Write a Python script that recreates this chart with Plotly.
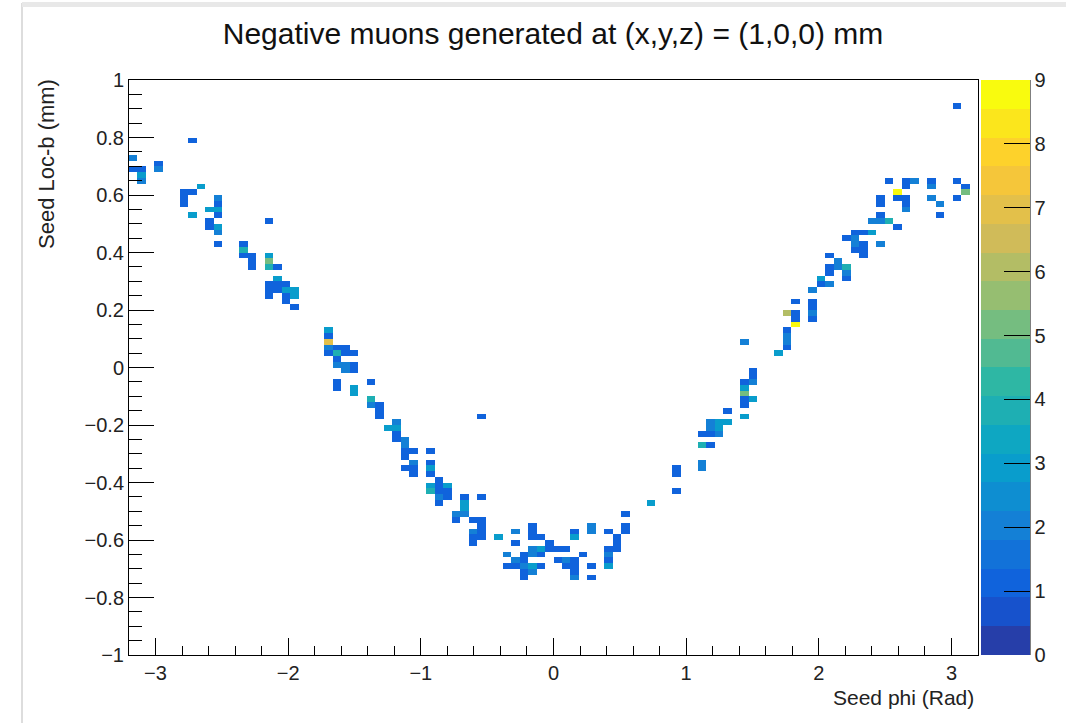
import numpy as np
import plotly.graph_objects as go

# ---- data: occupied bins (bin centres) and their counts ----
phi = [
    -3.168, -3.168, -3.104, -3.104, -3.104, -2.976, -2.976, -2.72, -2.784, -2.72,
    -2.784, -2.784, -2.72, -2.656, -2.528, -2.528, -2.528, -2.592, -2.528, -2.592,
    -2.592, -2.528, -2.528, -2.528, -2.336, -2.336, -2.336, -2.272, -2.272, -2.272,
    -2.144, -2.144, -2.144, -2.144, -2.08, -2.08, -2.144, -2.08, -2.016, -2.144,
    -2.08, -2.016, -1.952, -1.952, -2.144, -2.016, -2.016, -1.952,
    -1.696, -1.696, -1.696, -1.696, -1.632, -1.568, -1.696, -1.632, -1.568, -1.504,
    -1.632, -1.632, -1.568, -1.568, -1.504, -1.504, -1.632, -1.632, -1.504, -1.504,
    -1.376, -1.376, -1.376, -1.312, -1.312, -1.312, -0.544, -1.184, -1.248, -1.184,
    -1.184, -1.184, -1.12, -1.12, -1.12, -1.056, -1.12, -0.928, -1.056, -1.12,
    -1.056, -1.056, -0.928, -0.928, -0.928, -0.864, -0.928, -0.864, -0.8, -0.928,
    -0.864, -0.8, -0.864, -0.8, -0.864, -0.672, -0.544, -0.672, -0.672, -0.736,
    -0.736, -0.672, -0.608, -0.544, -0.544, -0.544, -0.544, -0.608, -0.608, -0.608,
    -0.416, -0.288, -0.288, -0.16, -0.16, -0.16, -0.096, -0.032, -0.16, -0.096,
    -0.032, 0.032, 0.096, -0.352, -0.224, -0.16, -0.096, -0.288, -0.224, -0.352,
    -0.288, -0.224, -0.16, -0.096, -0.224, -0.16, -0.224, 0.032, 0.096, 0.16,
    0.096, 0.16, 0.16, 0.16, 0.16, 0.16, 0.224, 0.288, 0.288, 0.288,
    0.288, 0.416, 0.544, 0.544, 0.544, 0.48, 0.48, 0.48, 0.416, 0.416,
    0.416, 0.416, 0.736,
    0.928, 0.928, 0.928, 1.12, 1.12, 1.12, 1.184, 1.12, 1.184, 1.184,
    1.184, 1.248, 1.312, 1.248, 1.248, 1.312, 1.44, 1.44, 1.44, 1.44,
    1.44, 1.504, 1.44, 1.504, 1.504, 1.504, 1.44, 1.696, 1.76, 1.76,
    1.76, 1.76, 1.76, 1.824, 1.824, 1.824, 1.824, 1.952, 1.952, 1.952,
    1.952, 1.952,
    1.952, 2.016, 2.016, 2.08, 2.016, 2.08, 2.08, 2.08, 2.144, 2.144,
    2.144, 2.208, 2.208, 2.208, 2.208, 2.272, 2.272, 2.272, 2.336, 2.336,
    2.336, 2.272, 2.336, 2.4, 2.464, 2.4, 2.464, 2.464, 2.464, 2.464,
    2.528, 2.528, 2.592, 2.592, 2.592, 2.656, 2.592, 2.656, 2.656, 2.656,
    2.656, 2.592, 2.656, 2.72, 2.848, 2.848, 2.912, 2.848, 2.912, 2.848,
    3.04, 3.104, 3.104, 3.104, 3.04, 3.04, 3.04,
]
locb = [
    0.73, 0.69, 0.69, 0.67, 0.65, 0.71, 0.69, 0.79, 0.61, 0.61,
    0.59, 0.57, 0.53, 0.63, 0.59, 0.57, 0.55, 0.55, 0.53, 0.51,
    0.49, 0.49, 0.47, 0.43, 0.43, 0.41, 0.39, 0.39, 0.37, 0.35,
    0.51, 0.39, 0.37, 0.35, 0.35, 0.31, 0.29, 0.29, 0.29, 0.27,
    0.27, 0.27, 0.27, 0.25, 0.25, 0.25, 0.23, 0.21,
    0.13, 0.11, 0.09, 0.07, 0.07, 0.07, 0.05, 0.05, 0.05, 0.05,
    0.03, 0.01, 0.01, -0.01, 0.01, -0.01, -0.05, -0.07, -0.07, -0.09,
    -0.05, -0.11, -0.13, -0.13, -0.15, -0.17, -0.17, -0.19, -0.21, -0.21,
    -0.23, -0.25, -0.25, -0.27, -0.29, -0.29, -0.31, -0.29, -0.33, -0.35,
    -0.35, -0.37, -0.33, -0.35, -0.37, -0.39, -0.41, -0.41, -0.41, -0.43,
    -0.43, -0.43, -0.45, -0.45, -0.47, -0.45, -0.45, -0.47, -0.49, -0.51,
    -0.53, -0.51, -0.53, -0.53, -0.55, -0.57, -0.59, -0.57, -0.59, -0.61,
    -0.59, -0.57, -0.61, -0.55, -0.57, -0.59, -0.59, -0.61, -0.63, -0.63,
    -0.63, -0.63, -0.63, -0.65, -0.65, -0.65, -0.65, -0.67, -0.67, -0.69,
    -0.69, -0.69, -0.69, -0.69, -0.71, -0.71, -0.73, -0.67, -0.67, -0.67,
    -0.69, -0.69, -0.71, -0.73, -0.57, -0.59, -0.65, -0.55, -0.57, -0.69,
    -0.73, -0.57, -0.51, -0.55, -0.57, -0.59, -0.61, -0.63, -0.63, -0.65,
    -0.67, -0.69, -0.47,
    -0.43, -0.35, -0.37, -0.33, -0.35, -0.27, -0.27, -0.23, -0.23, -0.19,
    -0.21, -0.19, -0.19, -0.21, -0.23, -0.15, -0.17, -0.05, -0.07, -0.09,
    -0.11, -0.11, -0.13, -0.01, -0.03, -0.05, 0.09, 0.05, 0.11, 0.09,
    0.07, 0.13, 0.19, 0.19, 0.17, 0.15, 0.23, 0.23, 0.21, 0.19,
    0.17,
    0.27, 0.27, 0.31, 0.31, 0.29, 0.29, 0.35, 0.33, 0.39, 0.37,
    0.35, 0.37, 0.35, 0.33, 0.31, 0.45, 0.43, 0.41, 0.45, 0.43,
    0.41, 0.39, 0.47, 0.47, 0.47, 0.51, 0.51, 0.53, 0.59, 0.57,
    0.43, 0.65, 0.51, 0.49, 0.61, 0.61, 0.59, 0.59, 0.57, 0.55,
    0.65, 0.63, 0.61, 0.55, 0.65, 0.63, 0.63, 0.57, 0.59, 0.53,
    0.65, 0.65, 0.63, 0.61, 0.61, 0.59, 0.91,
]
counts = [
    2, 1, 1, 3, 2, 1, 2, 1, 1, 1,
    1, 1, 3, 3, 2, 1, 3, 3, 1, 1,
    1, 3, 2, 1, 1, 4, 1, 1, 1, 1,
    1, 3, 5, 4, 1, 3, 1, 1, 1, 1,
    1, 3, 3, 3, 1, 1, 1, 1,
    3, 1, 7, 2, 1, 1, 1, 4, 1, 1,
    1, 2, 2, 2, 1, 1, 1, 1, 3, 3,
    1, 4, 2, 1, 1, 1, 1, 2, 3, 3,
    1, 1, 2, 2, 1, 1, 1, 1, 2, 1,
    1, 1, 1, 3, 1, 1, 3, 1, 3, 4,
    1, 1, 2, 1, 1, 1, 1, 3, 3, 2,
    1, 2, 1, 1, 1, 1, 1, 2, 1, 1,
    3, 2, 1, 1, 1, 1, 1, 1, 2, 3,
    1, 1, 1, 2, 1, 2, 1, 2, 1, 1,
    1, 2, 3, 1, 1, 2, 1, 1, 2, 1,
    1, 1, 1, 2, 1, 3, 1, 2, 2, 1,
    1, 1, 1, 1, 1, 1, 1, 1, 1, 2,
    1, 3, 3,
    1, 1, 1, 2, 2, 4, 1, 1, 1, 2,
    2, 3, 3, 3, 2, 1, 3, 1, 3, 5,
    1, 3, 1, 1, 1, 2, 2, 3, 2, 2,
    1, 1, 6, 1, 1, 9, 1, 1, 1, 2,
    1,
    1, 1, 1, 2, 2, 1, 1, 1, 1, 1,
    2, 1, 4, 2, 1, 1, 2, 1, 2, 1,
    1, 1, 1, 1, 3, 2, 2, 1, 1, 1,
    2, 1, 4, 1, 3, 3, 1, 1, 1, 1,
    1, 1, 4, 1, 2, 1, 1, 2, 2, 1,
    1, 1, 1, 1, 4, 1, 1,
]

# ---- binning (100 x 100 bins, ROOT TH2) ----
nbx, xlo, xhi = 100, -3.2, 3.2
nby, ylo, yhi = 100, -1.0, 1.0
xw = (xhi - xlo) / nbx
yw = (yhi - ylo) / nby
xc = xlo + xw * (np.arange(nbx) + 0.5)
yc = ylo + yw * (np.arange(nby) + 0.5)
z = np.full((nby, nbx), np.nan)
for p, l, c in zip(phi, locb, counts):
    i = int(np.floor((p - xlo) / xw))
    j = int(np.floor((l - ylo) / yw))
    if 0 <= i < nbx and 0 <= j < nby:
        z[j, i] = c if np.isnan(z[j, i]) else z[j, i] + c
zlist = [[None if np.isnan(v) else float(v) for v in row] for row in z]

# ---- ROOT kBird palette, 20 contour bands ----
stops = [0.0, 0.125, 0.25, 0.375, 0.5, 0.625, 0.75, 0.875, 1.0]
red = [0.2082, 0.0592, 0.0780, 0.0232, 0.1802, 0.5301, 0.8186, 0.9956, 0.9764]
green = [0.1664, 0.3599, 0.5041, 0.6419, 0.7178, 0.7492, 0.7328, 0.7862, 0.9832]
blue = [0.5293, 0.8684, 0.8385, 0.7914, 0.6425, 0.4662, 0.3499, 0.1968, 0.0539]
nband = 20
cscale = []
for k in range(nband):
    t = min((k + 0.99) / nband, 1.0)
    r = np.interp(t, stops, red)
    g = np.interp(t, stops, green)
    b = np.interp(t, stops, blue)
    col = "rgb(%d,%d,%d)" % (round(r * 255), round(g * 255), round(b * 255))
    cscale.append([k / nband, col])
    cscale.append([(k + 1) / nband, col])

FONT = "Liberation Sans, Arial, Helvetica, sans-serif"
W, H = 1066, 725
L, R, T, B = 129, 978, 80, 655


def px2x(px):
    return (px - L) / (R - L)


def py2y(py):
    return (B - py) / (B - T)


fig = go.Figure()
fig.add_trace(go.Heatmap(
    x=xc, y=yc, z=zlist,
    zmin=0, zmax=9,
    colorscale=cscale,
    hoverongaps=False,
    colorbar=dict(
        x=px2x(981), xanchor="left", xref="paper",
        y=0, yanchor="bottom", len=1, lenmode="fraction", ypad=0, xpad=0,
        thickness=49, thicknessmode="pixels",
        outlinewidth=0,
        tickvals=list(range(10)), ticktext=[str(v) for v in range(10)],
        ticks="inside", ticklen=26, tickcolor="black", tickwidth=1,
        tickfont=dict(family=FONT, size=20, color="#222"),
        ticklabelposition="outside",
    ),
))

fig.update_layout(
    width=W, height=H,
    margin=dict(l=L, r=W - R, t=T, b=H - B, autoexpand=False),
    paper_bgcolor="white", plot_bgcolor="white",
    title=dict(
        text="Negative muons generated at (x,y,z) = (1,0,0) mm",
        x=px2x(553), xref="paper", xanchor="center",
        y=1 - 33 / H, yref="container", yanchor="middle",
        font=dict(family=FONT, size=30, color="#111"),
    ),
    xaxis=dict(
        range=[xlo, xhi], showgrid=False, zeroline=False,
        showline=True, linecolor="black", linewidth=1, mirror=True,
        ticks="inside", ticklen=17, tickcolor="black", tickwidth=1,
        tick0=0, dtick=1,
        minor=dict(ticks="inside", ticklen=9, tickcolor="black", dtick=0.2, tick0=0, showgrid=False),
        tickfont=dict(family=FONT, size=20, color="#222"),
    ),
    yaxis=dict(
        range=[ylo, yhi], showgrid=False, zeroline=False,
        showline=True, linecolor="black", linewidth=1, mirror=True,
        ticks="inside", ticklen=25, tickcolor="black", tickwidth=1,
        tick0=0, dtick=0.2,
        minor=dict(ticks="inside", ticklen=13, tickcolor="black", dtick=0.05, tick0=0, showgrid=False),
        tickfont=dict(family=FONT, size=20, color="#222"),
    ),
    annotations=[
        dict(text="Seed phi (Rad)", xref="paper", yref="paper",
             x=px2x(976), y=py2y(684), xanchor="right", yanchor="top",
             showarrow=False, font=dict(family=FONT, size=21, color="#222")),
        dict(text="Seed Loc-b (mm)", xref="paper", yref="paper",
             x=px2x(46), y=py2y(77), xanchor="center", yanchor="top",
             textangle=-90, showarrow=False,
             font=dict(family=FONT, size=22, color="#222")),
    ],
    shapes=[
        dict(type="line", xref="paper", yref="paper",
             x0=px2x(22), x1=px2x(22), y0=py2y(3), y1=py2y(723),
             line=dict(color="#bbbbbb", width=1)),
        dict(type="rect", xref="paper", yref="paper",
             x0=px2x(22), x1=px2x(1066), y0=py2y(7), y1=py2y(2),
             fillcolor="#e8e8e8", line=dict(width=0)),
        dict(type="line", xref="paper", yref="paper",
             x0=px2x(1030), x1=px2x(1030), y0=0, y1=1,
             line=dict(color="black", width=1)),
    ],
)

fig.write_html("out.html")
